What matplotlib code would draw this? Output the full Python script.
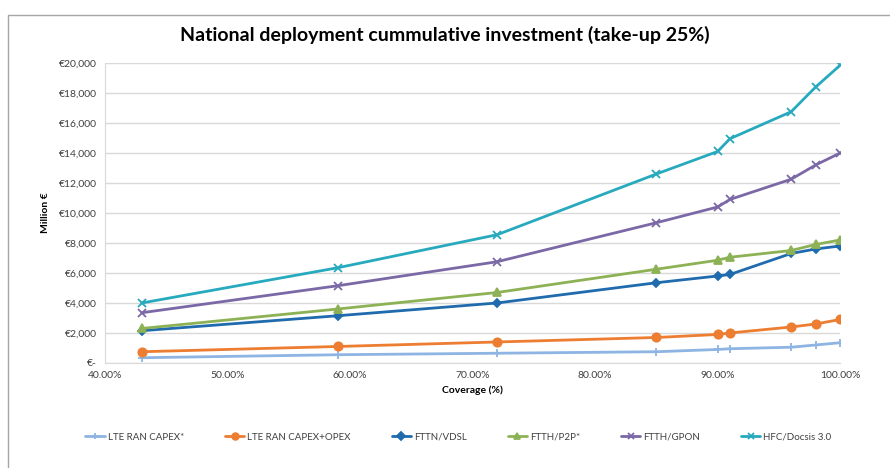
import matplotlib.pyplot as plt
from matplotlib.ticker import FuncFormatter
from matplotlib.patches import Rectangle

plt.rcParams['font.family'] = ['Lato', 'DejaVu Sans']

# coverage points (fraction)
coverage = [0.43, 0.59, 0.72, 0.85, 0.90, 0.91, 0.96, 0.98, 1.00]

# cumulative investment, million EUR
lte_capex = [350, 550, 650, 750, 900, 950, 1050, 1200, 1350]
lte_capex_opex = [750, 1100, 1400, 1700, 1900, 2000, 2400, 2600, 2900]
fttn_vdsl = [2150, 3150, 4000, 5350, 5800, 5900, 7300, 7600, 7800]
ftth_p2p = [2300, 3600, 4700, 6250, 6850, 7050, 7500, 7900, 8200]
ftth_gpon = [3350, 5150, 6750, 9350, 10400, 10900, 12250, 13200, 14000]
hfc_docsis = [4000, 6350, 8550, 12600, 14100, 14950, 16750, 18400, 19850]

series = [
    ('LTE RAN CAPEX*', lte_capex, '#8DB4E2', '+', 6),
    ('LTE RAN CAPEX+OPEX', lte_capex_opex, '#ED7D31', 'o', 6),
    ('FTTN/VDSL', fttn_vdsl, '#1F6BAE', 'D', 4.5),
    ('FTTH/P2P*', ftth_p2p, '#8DB255', '^', 6),
    ('FTTH/GPON', ftth_gpon, '#7B68A6', 'x', 6),
    ('HFC/Docsis 3.0', hfc_docsis, '#27A9BE', 'x', 6),
]

fig = plt.figure(figsize=(8.9, 4.68), dpi=100)
ax = fig.add_axes([0.118, 0.2244, 0.826, 0.641])

for name, vals, col, mk, ms in series:
    ax.plot(coverage, vals, color=col, marker=mk, markersize=ms, linewidth=2,
            markeredgewidth=1.3, label=name, solid_capstyle='round')

ax.set_xlim(0.40, 1.00)
ax.set_ylim(0, 20000)
ax.set_xticks([0.4, 0.5, 0.6, 0.7, 0.8, 0.9, 1.0])
ax.set_yticks(range(0, 20001, 2000))
ax.xaxis.set_major_formatter(FuncFormatter(lambda v, p: f'{v*100:.2f}%'))
ax.yaxis.set_major_formatter(FuncFormatter(lambda v, p: '€-' if v == 0 else f'€{v:,.0f}'))
ax.tick_params(length=0, labelsize=7.5, labelcolor='#404040', pad=6)
ax.grid(axis='y', color='#D9D9D9', linewidth=1)
ax.set_axisbelow(True)
for s in ['top', 'right']:
    ax.spines[s].set_visible(False)
for s in ['left', 'bottom']:
    ax.spines[s].set_color('#D9D9D9')

ax.set_xlabel('Coverage (%)', fontsize=7.5, fontweight='bold', labelpad=4)
ax.set_ylabel('Million €', fontsize=7.5, fontweight='bold', labelpad=6)
fig.text(0.5, 0.925, 'National deployment cummulative investment (take-up 25%)',
         ha='center', va='center', fontsize=14, fontweight='bold')

ax.legend(loc='center', bbox_to_anchor=(0.515, 0.066), bbox_transform=fig.transFigure,
          ncol=6, frameon=False, fontsize=7, handlelength=2.0, columnspacing=4.2,
          handletextpad=0.3, labelcolor='#404040', markerscale=0.8)

# outer chart border
fig.patches.append(Rectangle((8 / 890, -0.1), 1.2, 1.1 - 15 / 468, transform=fig.transFigure,
                             fill=False, edgecolor='#A6A6A6', linewidth=1))

fig.savefig('out.png', dpi=100)
